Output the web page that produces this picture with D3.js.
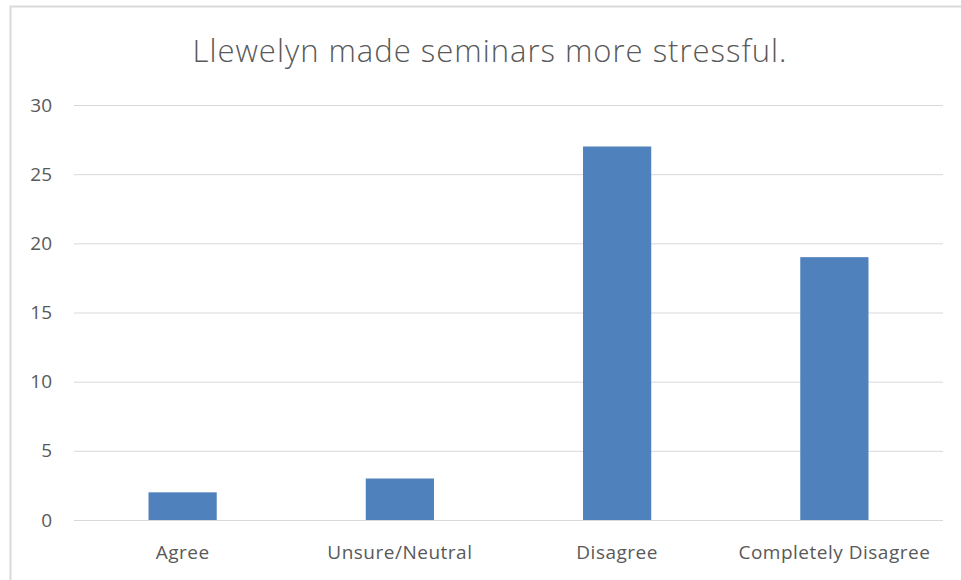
<!DOCTYPE html>
<html>
<head>
<meta charset="utf-8">
<script src="https://cdn.jsdelivr.net/npm/d3@7"></script>
<style>
  body { margin: 0; background: #fff; }
  text { font-family: "Open Sans", "Liberation Sans", sans-serif; fill: #595959; }
</style>
</head>
<body>
<div class="chart"></div>
<script>
const title = 'Llewelyn made seminars more stressful.';
const categories = ['Agree', 'Unsure/Neutral', 'Disagree', 'Completely Disagree'];
const counts = [2, 3, 27, 19];
const yTicks = [0, 5, 10, 15, 20, 25, 30];

const dims = { width: 961, height: 580 };
const plot = { left: 74, right: 943, top: 105, bottom: 520 };

const svg = d3.select('.chart')
  .append('svg')
  .attr('width', dims.width)
  .attr('height', dims.height);

// chart border (runs off the right/bottom edges)
svg.append('rect')
  .attr('x', 10.5)
  .attr('y', 6.5)
  .attr('width', 980)
  .attr('height', 600)
  .attr('fill', 'none')
  .attr('stroke', '#d9d9d9')
  .attr('stroke-width', 2);

svg.append('text')
  .attr('x', 490)
  .attr('y', 62)
  .attr('text-anchor', 'middle')
  .attr('font-size', '31px')
  .attr('font-weight', 300)
  .attr('letter-spacing', '1px')
  .text(title);

const x = d3.scaleBand()
  .domain(categories)
  .range([plot.left, plot.right])
  .paddingInner(0.686)
  .paddingOuter(0.343);

const y = d3.scaleLinear()
  .domain([0, 30])
  .range([plot.bottom, plot.top]);

const yAxis = d3.axisLeft(y)
  .tickValues(yTicks)
  .tickSize(-(plot.right - plot.left))
  .tickPadding(22);

const gy = svg.append('g')
  .attr('transform', `translate(${plot.left}, 0)`)
  .call(yAxis);
gy.select('.domain').remove();
gy.selectAll('line').attr('stroke', '#d9d9d9').attr('stroke-width', 1);
gy.selectAll('text').attr('font-size', '19px').attr('fill', '#595959');

const xAxis = d3.axisBottom(x).tickSize(0).tickPadding(26);
const gx = svg.append('g')
  .attr('transform', `translate(0, ${plot.bottom})`)
  .call(xAxis);
gx.select('.domain').remove();
gx.selectAll('text')
  .attr('font-size', '19px')
  .attr('letter-spacing', '0.5px')
  .attr('fill', '#595959');

svg.append('g')
  .selectAll('rect')
  .data(counts)
  .enter()
  .append('rect')
  .attr('x', (d, i) => x(categories[i]))
  .attr('width', x.bandwidth())
  .attr('y', d => y(d))
  .attr('height', d => y(0) - y(d))
  .attr('fill', '#4f81bd');
</script>
</body>
</html>
